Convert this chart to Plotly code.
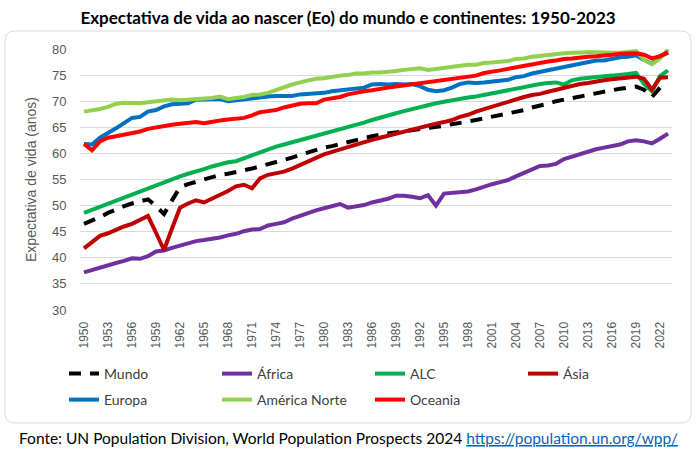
import plotly.graph_objects as go

anos = list(range(1950, 2024))

mundo = [46.5, 47.1, 47.8, 48.6, 49.3, 49.9, 50.4, 50.8, 51.2, 49.9,
         48.4, 51.0, 53.5, 54.1, 54.6, 55.1, 55.5, 55.9, 56.1, 56.4,
         56.7, 57.1, 57.5, 57.9, 58.3, 58.7, 59.2, 59.7, 60.2, 60.6,
         61.1, 61.4, 61.8, 62.1, 62.5, 62.9, 63.3, 63.6, 63.8, 64.1,
         64.3, 64.5, 64.7, 64.8, 65.0, 65.3, 65.6, 65.8, 66.1, 66.4,
         66.7, 67.0, 67.3, 67.6, 68.0, 68.3, 68.8, 69.1, 69.5, 70.0,
         70.3, 70.7, 71.0, 71.3, 71.6, 71.9, 72.1, 72.4, 72.6, 72.8,
         72.2, 70.8, 72.6, 73.4]

africa = [37.2, 37.7, 38.2, 38.6, 39.0, 39.4, 39.9, 39.8, 40.3, 41.2,
          41.4, 41.9, 42.4, 42.8, 43.2, 43.4, 43.6, 43.9, 44.3, 44.6,
          45.1, 45.4, 45.5, 46.2, 46.5, 46.8, 47.5, 48.1, 48.6, 49.1,
          49.5, 49.9, 50.3, 49.6, 49.8, 50.1, 50.6, 51.0, 51.3, 51.9,
          51.9, 51.7, 51.4, 52.0, 50.0, 52.3, 52.4, 52.5, 52.7, 53.1,
          53.7, 54.1, 54.5, 54.9, 55.6, 56.3, 57.0, 57.6, 57.7, 58.0,
          58.9, 59.4, 59.9, 60.5, 60.8, 61.1, 61.4, 61.7, 62.3, 62.5,
          62.3, 61.9, 62.8, 63.8]

alc = [48.6, 49.2, 49.8, 50.4, 51.0, 51.6, 52.2, 52.8, 53.4, 54.0,
       54.5, 55.1, 55.6, 56.1, 56.5, 57.0, 57.5, 57.9, 58.3, 58.5,
       59.1, 59.7, 60.3, 60.8, 61.3, 61.7, 62.1, 62.6, 63.0, 63.4,
       63.8, 64.2, 64.6, 65.0, 65.4, 65.9, 66.4, 66.9, 67.3, 67.7,
       68.1, 68.5, 68.9, 69.3, 69.6, 69.9, 70.2, 70.4, 70.7, 70.9,
       71.2, 71.5, 71.8, 72.2, 72.5, 72.8, 73.1, 73.3, 73.5, 73.6,
       73.2, 74.0, 74.3, 74.5, 74.7, 74.8, 74.9, 75.0, 75.2, 75.4,
       73.3, 71.9, 74.8, 75.9]

asia = [41.8, 43.0, 44.2, 44.7, 45.4, 46.0, 46.5, 47.2, 48.0, 44.8,
        41.5, 45.6, 49.6, 50.4, 51.0, 50.6, 51.3, 52.0, 52.8, 53.7,
        54.0, 53.3, 55.2, 55.9, 56.2, 56.5, 57.1, 57.8, 58.5, 59.3,
        59.8, 60.3, 60.8, 61.2, 61.7, 62.2, 62.6, 63.0, 63.4, 63.8,
        64.2, 64.6, 65.0, 65.3, 65.7, 66.0, 66.4, 67.0, 67.4, 68.0,
        68.5, 68.9, 69.3, 69.8, 70.3, 70.8, 71.2, 71.4, 71.8, 72.2,
        72.7, 73.0, 73.3, 73.5, 73.8, 74.0, 74.2, 74.4, 74.6, 74.7,
        74.3, 72.2, 74.5, 74.6]

europa = [61.8, 61.7, 63.0, 63.8, 64.8, 65.8, 66.8, 67.0, 68.0, 68.3,
          69.0, 69.4, 69.5, 69.6, 70.3, 70.3, 70.4, 70.4, 70.0, 70.2,
          70.4, 70.6, 70.8, 70.9, 71.0, 71.0, 71.0, 71.3, 71.4, 71.5,
          71.6, 71.9, 72.1, 72.2, 72.5, 72.6, 73.2, 73.3, 73.2, 73.3,
          73.2, 73.3, 72.9, 72.2, 71.9, 72.1, 72.6, 73.3, 73.6, 73.5,
          73.6, 73.8, 74.0, 74.1, 74.6, 74.8, 75.3, 75.6, 75.9, 76.2,
          76.5, 76.9, 77.1, 77.4, 77.8, 77.8, 78.2, 78.4, 78.5, 78.8,
          77.9, 77.2, 78.6, 79.3]

america_norte = [68.0, 68.2, 68.5, 68.9, 69.5, 69.7, 69.7, 69.6, 69.8, 70.0,
                 70.1, 70.3, 70.2, 70.3, 70.5, 70.5, 70.6, 70.9, 70.4, 70.6,
                 70.8, 71.2, 71.3, 71.6, 72.2, 72.8, 73.2, 73.6, 74.0, 74.3,
                 74.4, 74.7, 74.9, 75.0, 75.3, 75.3, 75.5, 75.5, 75.6, 75.8,
                 76.0, 76.2, 76.3, 76.0, 76.2, 76.4, 76.7, 76.9, 77.0, 77.0,
                 77.3, 77.4, 77.5, 77.7, 78.1, 78.2, 78.5, 78.7, 78.8, 79.1,
                 79.2, 79.3, 79.4, 79.4, 79.4, 79.3, 79.3, 79.3, 79.4, 79.6,
                 77.9, 77.1, 78.2, 79.9]

oceania = [61.8, 60.6, 62.3, 63.0, 63.3, 63.6, 63.9, 64.2, 64.7, 65.0,
           65.3, 65.5, 65.7, 65.9, 66.0, 65.8, 66.1, 66.3, 66.5, 66.7,
           66.8, 67.3, 67.9, 68.1, 68.3, 68.8, 69.2, 69.5, 69.6, 69.6,
           70.3, 70.6, 70.8, 71.3, 71.7, 71.9, 72.1, 72.4, 72.6, 72.8,
           73.0, 73.3, 73.5, 73.7, 73.9, 74.1, 74.3, 74.5, 74.7, 74.9,
           75.4, 75.6, 75.9, 76.2, 76.5, 76.8, 77.1, 77.3, 77.6, 77.8,
           78.1, 78.2, 78.4, 78.5, 78.6, 78.7, 78.9, 79.1, 79.2, 79.2,
           78.9, 78.2, 78.6, 79.4]

tick_anos = list(range(1950, 2023, 3))
tick_y = [30, 35, 40, 45, 50, 55, 60, 65, 70, 75, 80]

series = [
    ("Mundo", mundo, "#000000", "legend"),
    ("África", africa, "#7030A0", "legend"),
    ("ALC", alc, "#00B050", "legend"),
    ("Ásia", asia, "#C00000", "legend"),
    ("Europa", europa, "#0070C0", "legend2"),
    ("América Norte", america_norte, "#92D050", "legend2"),
    ("Oceania", oceania, "#FF0000", "legend2"),
]

W, H = 696, 452
L, R, T, B = 80, 24, 49, 142
PW = W - L - R
PH = H - T - B


def px(x):
    return (x - L) / PW


def py(y):
    return (H - B - y) / PH


fig = go.Figure()
for name, vals, color, leg in series:
    fig.add_trace(go.Scatter(
        x=anos, y=vals, name=name, mode="lines",
        line=dict(color=color, width=4,
                  dash="12px,9px" if name == "Mundo" else "solid"),
        legend=leg,
    ))

# rounded frame
x0, x1, y0, y1 = px(5), px(691), py(423), py(31)
rx, ry = 10 / PW, 10 / PH
path = (f"M{x0+rx},{y1} L{x1-rx},{y1} Q{x1},{y1} {x1},{y1-ry} "
        f"L{x1},{y0+ry} Q{x1},{y0} {x1-rx},{y0} L{x0+rx},{y0} "
        f"Q{x0},{y0} {x0},{y0+ry} L{x0},{y1-ry} Q{x0},{y1} {x0+rx},{y1} Z")

legend_common = dict(
    orientation="h", xanchor="left", yanchor="middle",
    font=dict(family="Lato", size=14, color="#404040"),
    entrywidthmode="pixels", entrywidth=108,
    bgcolor="rgba(0,0,0,0)",
)

fig.update_layout(
    width=W, height=H,
    margin=dict(l=L, r=R, t=T, b=B),
    paper_bgcolor="white", plot_bgcolor="white",
    title=dict(
        text="<b>Expectativa de vida ao nascer (Eo) do mundo e continentes: 1950-2023</b>",
        x=px(348), xref="paper", xanchor="center",
        y=1 - 18 / H, yref="container", yanchor="middle",
        font=dict(family="Lato", size=17, color="#000000"),
    ),
    xaxis=dict(
        range=[1949.5, 2023.5], tickmode="array", tickvals=tick_anos,
        ticktext=[str(a) for a in tick_anos], tickangle=-90,
        showgrid=False, zeroline=False, showline=False,
        ticks="outside", ticklen=6, tickcolor="rgba(0,0,0,0)",
        tickfont=dict(family="Liberation Sans", size=12, color="#595959"),
        fixedrange=True,
    ),
    yaxis=dict(
        range=[30, 80], tickmode="array", tickvals=tick_y,
        showgrid=True, gridcolor="#D9D9D9", gridwidth=1,
        zeroline=False, showline=False,
        ticks="outside", ticklen=10, tickcolor="rgba(0,0,0,0)",
        tickfont=dict(family="Liberation Sans", size=13, color="#595959"),
        title=dict(text="Expectativa de vida (anos)", standoff=12,
                   font=dict(family="Liberation Sans", size=14, color="#595959")),
        fixedrange=True,
    ),
    legend=dict(x=px(64), y=py(374), **legend_common),
    legend2=dict(x=px(64), y=py(400), **legend_common),
    shapes=[dict(type="path", xref="paper", yref="paper", path=path,
                 line=dict(color="#D9D9D9", width=1), fillcolor="rgba(0,0,0,0)",
                 layer="below")],
    annotations=[dict(
        text=("Fonte: UN Population Division, World Population Prospects 2024 "
              "<a href='https://population.un.org/wpp/'><span style='color:#0563C1'>"
              "<u>https://population.un.org/wpp/</u></span></a>"),
        xref="paper", yref="paper", x=px(348), y=py(438),
        xanchor="center", yanchor="middle", showarrow=False,
        font=dict(family="Lato", size=15.5, color="#000000"),
    )],
    showlegend=True,
)

fig.write_html("out.html", config={"displayModeBar": False})

with open("out.html", "r", encoding="utf-8") as f:
    html = f.read()
html = html.replace("<body>", "<body style=\"margin:0;padding:0;\">", 1)
with open("out.html", "w", encoding="utf-8") as f:
    f.write(html)
